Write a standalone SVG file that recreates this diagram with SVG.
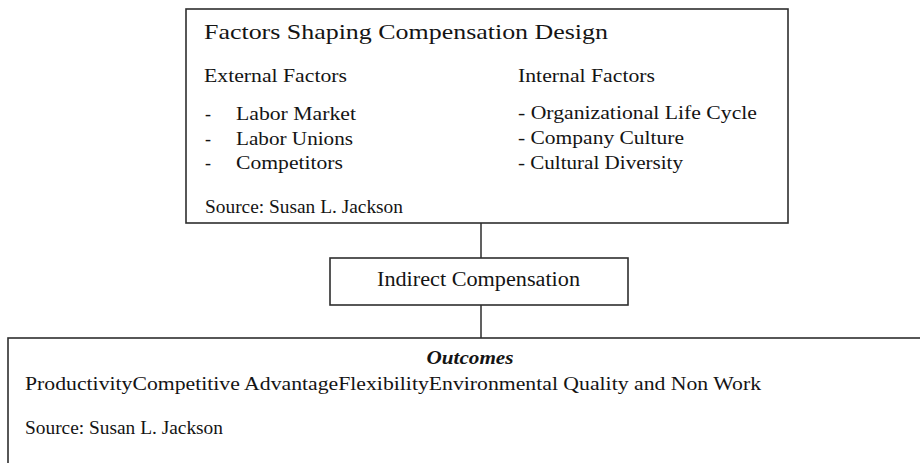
<svg xmlns="http://www.w3.org/2000/svg" width="920" height="463" viewBox="0 0 920 463">
  <style>
    .box { fill: #ffffff; stroke: #2e2e2e; stroke-width: 1.6; }
    .link { stroke: #1e1e1e; stroke-width: 1.4; fill: none; }
    .t { font-family: "Liberation Serif", "Times New Roman", serif; fill: #141414; }
    .title { font-size: 22px; }
    .head { font-size: 18px; }
    .item { font-size: 18px; }
    .mid { font-size: 20px; }
    .outc { font-size: 18px; font-weight: bold; font-style: italic; }
  </style>
  <rect width="920" height="463" fill="#ffffff"/>

  <g id="connectors">
    <line class="link" x1="481" y1="223" x2="481" y2="258"/>
    <line class="link" x1="481" y1="305" x2="481" y2="338"/>
  </g>

  <g id="factors">
    <rect class="box" x="186" y="9" width="602" height="214"/>
    <text class="t title" x="204" y="39" textLength="404" lengthAdjust="spacingAndGlyphs">Factors Shaping Compensation Design</text>
    <text class="t head" x="204" y="82" textLength="143" lengthAdjust="spacingAndGlyphs">External Factors</text>
    <text class="t head" x="518" y="82" textLength="137" lengthAdjust="spacingAndGlyphs">Internal Factors</text>
    <text class="t item" x="205" y="120">-</text>
    <text class="t item" x="205" y="145">-</text>
    <text class="t item" x="205" y="169">-</text>
    <text class="t item" x="236" y="120" textLength="120" lengthAdjust="spacingAndGlyphs">Labor Market</text>
    <text class="t item" x="236" y="145" textLength="117" lengthAdjust="spacingAndGlyphs">Labor Unions</text>
    <text class="t item" x="236" y="169" textLength="107" lengthAdjust="spacingAndGlyphs">Competitors</text>
    <text class="t item" x="518" y="119" textLength="239" lengthAdjust="spacingAndGlyphs">- Organizational Life Cycle</text>
    <text class="t item" x="518" y="144" textLength="166" lengthAdjust="spacingAndGlyphs">- Company Culture</text>
    <text class="t item" x="518" y="169" textLength="165" lengthAdjust="spacingAndGlyphs">- Cultural Diversity</text>
    <text class="t item" x="205" y="213" textLength="198" lengthAdjust="spacingAndGlyphs">Source: Susan L. Jackson</text>
  </g>

  <g id="indirect">
    <rect class="box" x="330" y="258" width="298" height="47"/>
    <text class="t mid" x="377" y="286" textLength="203" lengthAdjust="spacingAndGlyphs">Indirect Compensation</text>
  </g>

  <g id="outcomes">
    <rect class="box" x="8" y="338" width="1000" height="200"/>
    <text class="t outc" x="470" y="364" text-anchor="middle" textLength="87" lengthAdjust="spacingAndGlyphs">Outcomes</text>
    <text class="t item" x="25" y="390" textLength="736" lengthAdjust="spacingAndGlyphs">ProductivityCompetitive AdvantageFlexibilityEnvironmental Quality and Non Work</text>
    <text class="t item" x="25" y="434" textLength="198" lengthAdjust="spacingAndGlyphs">Source: Susan L. Jackson</text>
  </g>
</svg>
